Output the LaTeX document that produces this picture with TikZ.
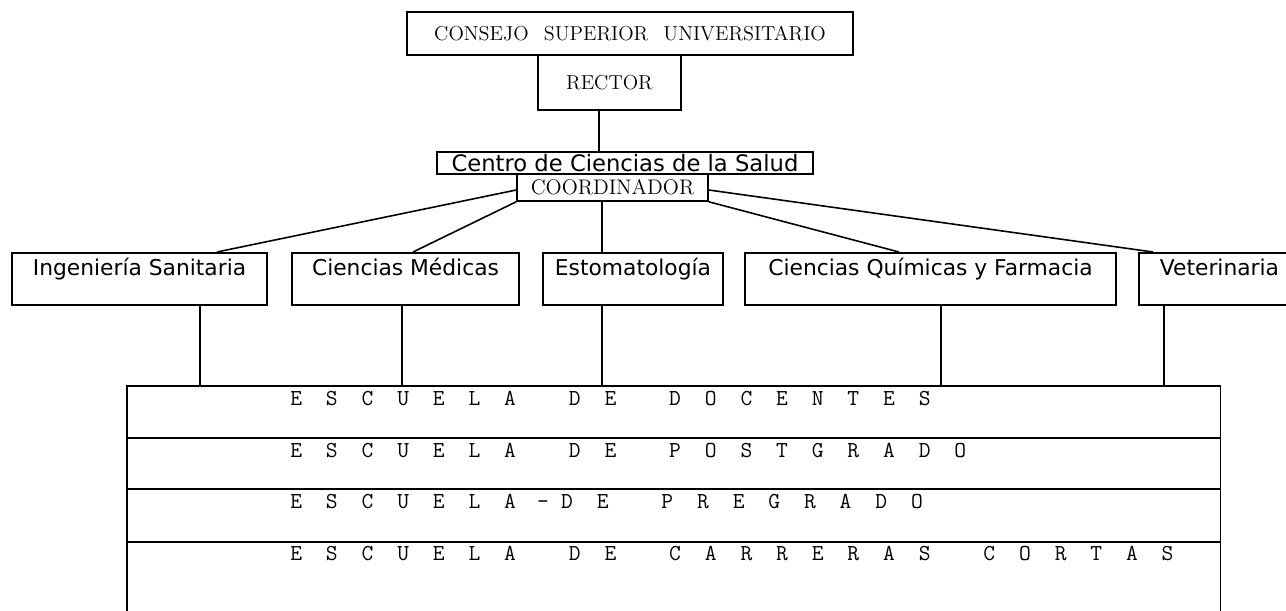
\documentclass[tikz,border=0pt]{standalone}
\usepackage{fontspec}
\newfontfamily\boxfont{DejaVu Sans}
% spaced capitals of the school rows
\def\escword#1{\escletters#1\relax}
\def\escletters#1#2{#1\ifx\relax#2\else\hspace{13.6pt}\expandafter\escletters\expandafter#2\fi}
\newcommand\escgap{\hspace{30.1pt}}

\begin{document}
\begin{tikzpicture}[x=0.02cm,y=-0.02cm,
  topbox/.style={draw, line width=0.9pt, inner sep=0pt, font=\fontsize{11.5}{13}\selectfont},
  unit/.style={draw, line width=0.9pt, inner sep=0pt, anchor=north, text height=0.46cm, text depth=0.58cm, font=\boxfont\fontsize{12.4}{14}\selectfont},
  row/.style={draw, line width=0.9pt, anchor=north west, minimum width=21.88cm, inner sep=0pt},
  esctext/.style={anchor=base west, inner sep=0pt, font=\ttfamily\fontsize{13}{15}\selectfont},
  link/.style={draw, line width=0.9pt}]
\useasboundingbox (0,0) rectangle (1286,611);

\node[topbox, minimum width=8.92cm, minimum height=0.86cm] (consejo) at (630,33.5) {CONSEJO\hspace{0.75em}SUPERIOR\hspace{0.75em}UNIVERSITARIO};
\node[topbox, minimum width=2.86cm, minimum height=1.1cm] (rector) at (609.5,82.5) {RECTOR};
\node[topbox, minimum width=7.52cm, minimum height=0.44cm, font=\boxfont\fontsize{12.9}{14}\selectfont] (centro) at (625,163) {Centro de Ciencias de la Salud};
\node[topbox, minimum width=3.82cm, minimum height=0.54cm, font=\fontsize{12}{13}\selectfont] (coord) at (612.5,187.5) {COORDINADOR};

\node[unit, minimum width=5.1cm] (ing) at (139.5,252) {Ingeniería Sanitaria};
\node[unit, minimum width=4.54cm] (med) at (405.5,252) {Ciencias Médicas};
\node[unit, minimum width=3.6cm] (esto) at (633,252) {Estomatología};
\node[unit, minimum width=7.42cm] (quim) at (930.5,252) {Ciencias Químicas y Farmacia};
\node[unit, minimum width=3.22cm] (vet) at (1219.5,252) {Veterinaria};

\node[row, minimum height=1.04cm] (docentes) at (126,385) {};
\node[row, minimum height=1.02cm] (postgrado) at (126,437) {};
\node[row, minimum height=1.06cm] (pregrado) at (126,488) {};
\node[row, minimum height=1.68cm] (cortas) at (126,541) {};

\node[esctext] (tdocentes) at ([xshift=3.28cm,yshift=-0.42cm]docentes.north west) {\escword{ESCUELA}\escgap\escword{DE}\escgap\escword{DOCENTES}};
\node[esctext] (tpostgrado) at ([xshift=3.28cm,yshift=-0.42cm]postgrado.north west) {\escword{ESCUELA}\escgap\escword{DE}\escgap\escword{POSTGRADO}};
\node[esctext] (tpregrado) at ([xshift=3.28cm,yshift=-0.42cm]pregrado.north west) {\escword{ESCUELA}\hspace{12pt}-\hspace{7pt}\escword{DE}\escgap\escword{PREGRADO}};
\node[esctext] (tcortas) at ([xshift=3.28cm,yshift=-0.40cm]cortas.north west) {\escword{ESCUELA}\escgap\escword{DE}\escgap\escword{CARRERAS}\escgap\escword{CORTAS}};

\path[link] ([xshift=-0.21cm]rector.south) -- ([xshift=-0.21cm]rector.south |- centro.north);
\path[link] ([yshift=-0.05cm]coord.west) -- ([xshift=1.55cm]ing.north);
\path[link] (coord.south west) -- ([xshift=0.15cm]med.north);
\path[link] ([xshift=-0.21cm]coord.south) -- ([xshift=-0.21cm]coord.south |- esto.north);
\path[link] (coord.south east) -- ([xshift=-0.63cm]quim.north);
\path[link] ([yshift=-0.05cm]coord.east) -- ([xshift=-1.33cm]vet.north);

\path[link] ([xshift=1.21cm]ing.south) -- ([xshift=1.21cm]ing.south |- docentes.north);
\path[link] ([xshift=-0.07cm]med.south) -- ([xshift=-0.07cm]med.south |- docentes.north);
\path[link] ([xshift=-0.62cm]esto.south) -- ([xshift=-0.62cm]esto.south |- docentes.north);
\path[link] ([xshift=0.21cm]quim.south) -- ([xshift=0.21cm]quim.south |- docentes.north);
\path[link] ([xshift=-1.11cm]vet.south) -- ([xshift=-1.11cm]vet.south |- docentes.north);
\end{tikzpicture}
\end{document}
